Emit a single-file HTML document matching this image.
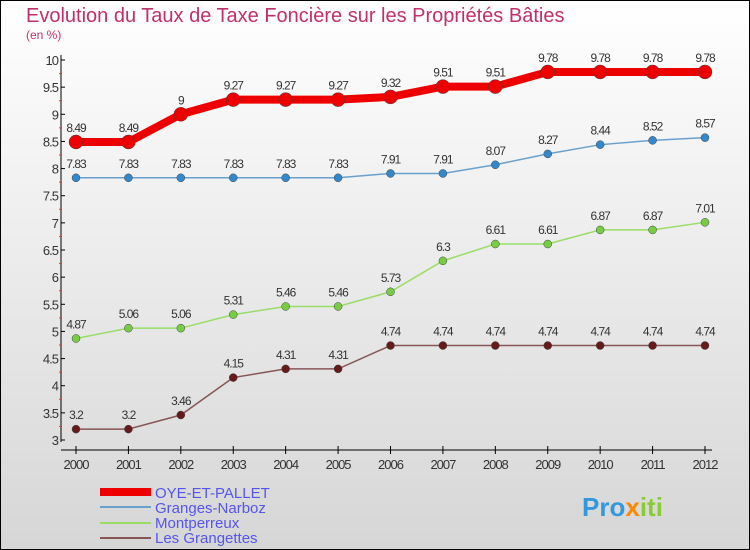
<!DOCTYPE html>
<html><head><meta charset="utf-8"><style>
body{margin:0}
#c{width:750px;height:550px;position:relative;overflow:hidden;font-family:"Liberation Sans",sans-serif}
</style></head><body>
<div id="c">
<svg id="s" width="750" height="550" xmlns="http://www.w3.org/2000/svg">
<defs><linearGradient id="bg" x1="0" y1="0" x2="0" y2="1"><stop offset="0" stop-color="#ffffff"/><stop offset="1" stop-color="#d6d6d6"/></linearGradient></defs>
<rect x="0.5" y="0.5" width="749" height="549" fill="url(#bg)" stroke="#000"/>
<text x="26" y="22" font-size="20" fill="#c0306a">Evolution du Taux de Taxe Foncière sur les Propriétés Bâties</text>
<text x="26" y="39" font-size="12" fill="#c0306a">(en %)</text>
<g id="axes"></g><g id="series"></g>
<g>
<rect x="100" y="488" width="51" height="8" fill="#ee0000"/>
<text x="155" y="498" font-size="15" fill="#5555ee">OYE-ET-PALLET</text>
<rect x="100" y="506" width="51" height="2" fill="#6aa0cc"/>
<text x="155" y="513" font-size="15" fill="#5555ee">Granges-Narboz</text>
<rect x="100" y="522" width="51" height="2" fill="#99dd66"/>
<text x="155" y="528" font-size="15" fill="#5555ee">Montperreux</text>
<rect x="100" y="537" width="51" height="2" fill="#885555"/>
<text x="155" y="543" font-size="15" fill="#5555ee">Les Grangettes</text>
</g>
<g><text x="582" y="516" font-size="26" font-weight="bold" fill="#3399dd">Pro<tspan fill="#ff8800">x</tspan><tspan fill="#88cc33">iti</tspan></text></g>
</svg>
<script>
const years=[2000,2001,2002,2003,2004,2005,2006,2007,2008,2009,2010,2011,2012];
const oye=[8.49,8.49,9,9.27,9.27,9.27,9.32,9.51,9.51,9.78,9.78,9.78,9.78];
const granges=[7.83,7.83,7.83,7.83,7.83,7.83,7.91,7.91,8.07,8.27,8.44,8.52,8.57];
const montp=[4.87,5.06,5.06,5.31,5.46,5.46,5.73,6.3,6.61,6.61,6.87,6.87,7.01];
const grangettes=[3.2,3.2,3.46,4.15,4.31,4.31,4.74,4.74,4.74,4.74,4.74,4.74,4.74];
const yTicks=[3,3.5,4,4.5,5,5.5,6,6.5,7,7.5,8,8.5,9,9.5,10];
const NS="http://www.w3.org/2000/svg";
const x=i=>76+i*(705-76)/(years.length-1);
const y=v=>440-(v-3)*(380/7);
function mk(t,a,p){const e=document.createElementNS(NS,t);for(const k in a)e.setAttribute(k,a[k]);p.appendChild(e);return e;}
const ax=document.getElementById('axes');
let e=mk('line',{x1:61,y1:55,x2:61,y2:442,stroke:'#000'},ax);


e=mk('line',{x1:61,y1:450,x2:712,y2:450,stroke:'#000'},ax);


yTicks.forEach(v=>{
 mk('line',{x1:61,y1:y(v),x2:65,y2:y(v),stroke:'#000'},ax);
 if(v<10) mk('line',{x1:59,y1:y(v+0.25),x2:62,y2:y(v+0.25),stroke:'#e33'},ax);
 const t=mk('text',{x:58,y:y(v)+5,'font-size':13,'text-anchor':'end',fill:'#333','letter-spacing':'-1'},ax);
 t.textContent=String(v);
 
 
});
years.forEach((yr,i)=>{
 mk('line',{x1:x(i),y1:446,x2:x(i),y2:454,stroke:'#000'},ax);
 const t=mk('text',{x:x(i),y:469,'font-size':13,'text-anchor':'middle',fill:'#333','letter-spacing':'-1'},ax);
 t.textContent=String(yr);
 
 
});
const sg=document.getElementById('series');
function series(d,name,col,dot,w,r){
 const g=mk('g',{},sg);
 
 
 const l=mk('polyline',{points:d.map((v,i)=>x(i)+','+y(v)).join(' '),fill:'none',stroke:col,'stroke-width':w},g);
 
 
 d.forEach((v,i)=>{
  const c=mk('circle',{cx:x(i),cy:y(v),r:r,fill:dot,stroke:'#444','stroke-width':0.5},g);
  
  
  const t=mk('text',{x:x(i),y:y(v)-10,'font-size':12,'text-anchor':'middle',fill:'#333','letter-spacing':'-1'},g);
  t.textContent=String(v);
  
  
 });
}
series(grangettes,'grangettes','#885555','#661a1a',1.5,4);
series(montp,'montperreux','#99dd66','#77cc44',1.5,4);
series(granges,'granges','#6aa0cc','#3388cc',1.5,4);
series(oye,'oye','#ee0000','#ee0000',8,7);
</script>
</div></body></html>
